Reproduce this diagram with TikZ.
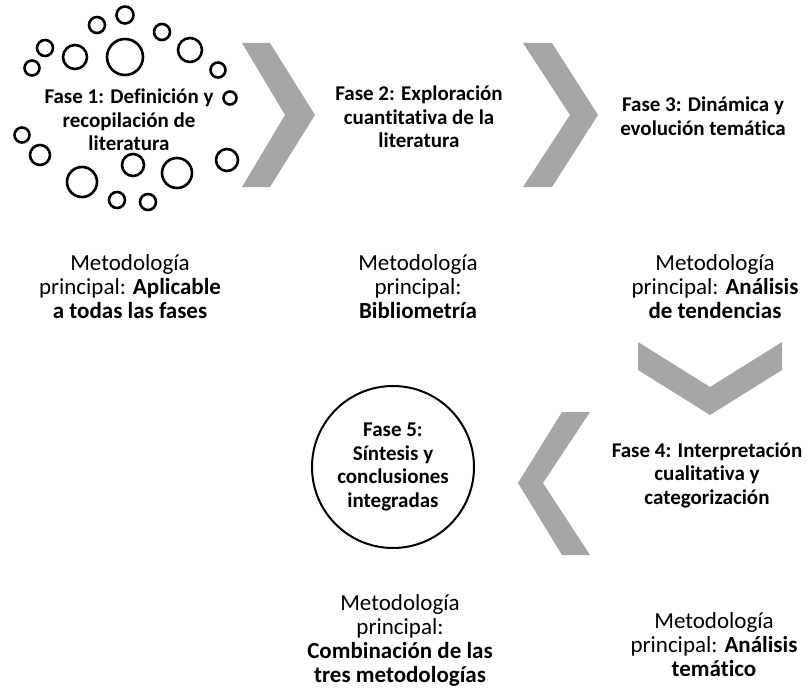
\documentclass[tikz,border=0pt]{standalone}
\usepackage{fontspec}
\setmainfont{Carlito}[Ligatures=NoCommon]
\definecolor{chev}{RGB}{166,166,166}
\begin{document}
\begin{tikzpicture}[x=1pt,y=-1pt,
  chevron/.style={fill=chev,draw=none},
  ring/.style={draw=black,line width=2.6pt},
  fase/.style={align=center,inner sep=0pt,font=\fontsize{21}{23.5}\selectfont\bfseries},
  metod/.style={align=center,inner sep=0pt,font=\fontsize{23}{24}\selectfont}]
\useasboundingbox (0,0) rectangle (807,693);
% chevrons
\fill[chevron] (242,43) -- (270,43) -- (315,115) -- (270,187) -- (242,187) -- (285,115) -- cycle;
\fill[chevron] (523,43) -- (552,43) -- (598,115) -- (552,187) -- (523,187) -- (570,115) -- cycle;
\fill[chevron] (638,342) -- (710,387) -- (782,342) -- (782,370) -- (710,415) -- (638,370) -- cycle;
\fill[chevron] (590,412) -- (562,412) -- (518,483) -- (562,555) -- (590,555) -- (543,483) -- cycle;
% small rings around phase 1
\foreach \cx/\cy/\r in {125/15/8.5, 97/25/8, 162/32/8, 45/48/8, 75/57/12, 125/57/18,
  190/50/12, 32/68/7.5, 218/70/7.5, 230/98/6.5, 22/135/7.5, 40/155/10, 82/182/15,
  133/165/11, 177/173/15, 227/160/11, 117/200/8, 148/202/8}
  \draw[ring] (\cx,\cy) circle[radius=\r];
% phase 5 circle
\node[circle,draw=black,line width=2pt,minimum size=162pt,inner sep=0pt] (c5) at (393,467) {};
% phase labels
\node[fase] (f1) at (129,120) {Fase 1: Definición y\\recopilación de\\literatura};
\node[fase] (f2) at (419,117) {Fase 2: Exploración\\cuantitativa de la\\literatura};
\node[fase] (f3) at (703,116) {Fase 3: Dinámica y\\evolución temática};
\node[fase] (f4) at (707,475) {Fase 4: Interpretación\\cualitativa y\\categorización};
\node[fase] (f5) at (c5) {Fase 5:\\Síntesis y\\conclusiones\\integradas};
% methodology labels
\node[metod] (m1) at (130,287) {Metodología\\principal: \textbf{Aplicable}\\\textbf{a todas las fases}};
\node[metod] (m2) at (418,287) {Metodología\\principal:\\\textbf{Bibliometría}};
\node[metod] (m3) at (715,287) {Metodología\\principal: \textbf{Análisis}\\\textbf{de tendencias}};
\node[metod] (m5) at (400,640) {Metodología\\principal:\\\textbf{Combinación de las}\\\textbf{tres metodologías}};
\node[metod] (m4) at (714,645) {Metodología\\principal: \textbf{Análisis}\\\textbf{temático}};
\end{tikzpicture}
\end{document}
